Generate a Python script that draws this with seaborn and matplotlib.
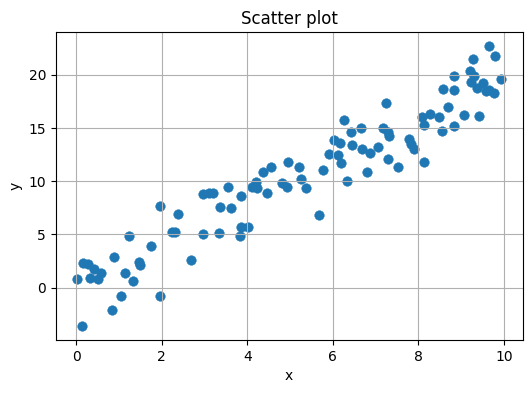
import matplotlib
matplotlib.use("Agg")
import matplotlib.pyplot as plt
import seaborn as sns
import pandas as pd

# ------------------ Data ------------------
x = [0.02, 0.14, 0.16, 0.28, 0.33, 0.42, 0.51, 0.58, 0.84, 0.89,
     1.05, 1.14, 1.24, 1.33, 1.47, 1.50, 1.75, 1.96, 1.96, 2.24,
     2.31, 2.38, 2.69, 2.97, 2.97, 3.11, 3.20, 3.34, 3.36, 3.55,
     3.62, 3.83, 3.86, 3.86, 4.02, 4.11, 4.21, 4.23, 4.37, 4.46,
     4.56, 4.81, 4.93, 4.95, 5.21, 5.26, 5.37, 5.68, 5.78, 5.92,
     6.04, 6.13, 6.18, 6.20, 6.27, 6.34, 6.43, 6.45, 6.66, 6.68,
     6.80, 6.87, 7.06, 7.18, 7.25, 7.28, 7.30, 7.32, 7.52, 7.78,
     7.83, 7.90, 8.08, 8.13, 8.13, 8.27, 8.48, 8.55, 8.57, 8.69,
     8.83, 8.83, 8.83, 9.07, 9.20, 9.23, 9.28, 9.30, 9.37, 9.42,
     9.52, 9.58, 9.66, 9.66, 9.76, 9.80, 9.94]
y = [0.8, -3.6, 2.3, 2.2, 0.9, 1.8, 0.8, 1.4, -2.1, 2.9,
     -0.8, 1.4, 4.9, 0.6, 2.4, 2.1, 3.9, 7.7, -0.8, 5.2,
     5.2, 6.9, 2.6, 8.8, 5.0, 8.9, 8.9, 5.1, 7.6, 9.5,
     7.5, 4.9, 8.6, 5.7, 5.7, 9.5, 9.9, 9.4, 10.9, 8.9,
     11.3, 9.8, 9.5, 11.8, 11.3, 10.2, 9.4, 6.8, 11.1, 12.6,
     13.9, 12.5, 13.6, 11.7, 15.8, 10.0, 14.6, 13.4, 15.0, 13.0,
     10.9, 12.7, 13.2, 15.0, 17.4, 12.1, 14.6, 14.3, 11.3, 14.0,
     13.5, 13.0, 16.0, 15.3, 11.8, 16.3, 16.0, 14.7, 18.7, 17.0,
     15.2, 18.6, 19.9, 16.2, 20.4, 19.3, 21.5, 19.9, 18.8, 16.1,
     19.2, 18.5, 18.6, 22.7, 18.3, 21.8, 19.6]

df = pd.DataFrame({"x": x, "y": y})

# ------------------ Plot ------------------
fig, ax = plt.subplots(figsize=(5.31, 3.93), dpi=100)
sns.scatterplot(data=df, x="x", y="y", ax=ax, s=48, color="#1f77b4",
                edgecolor="#1f77b4", linewidth=0.3)
ax.set_title("Scatter plot")
ax.set_xlabel("x")
ax.set_ylabel("y")
ax.set_xticks([0, 2, 4, 6, 8, 10])
ax.set_yticks([0, 5, 10, 15, 20])
ax.grid(True)
fig.subplots_adjust(left=0.105, right=0.984, top=0.918, bottom=0.135)
fig.savefig("out.png", dpi=100)
